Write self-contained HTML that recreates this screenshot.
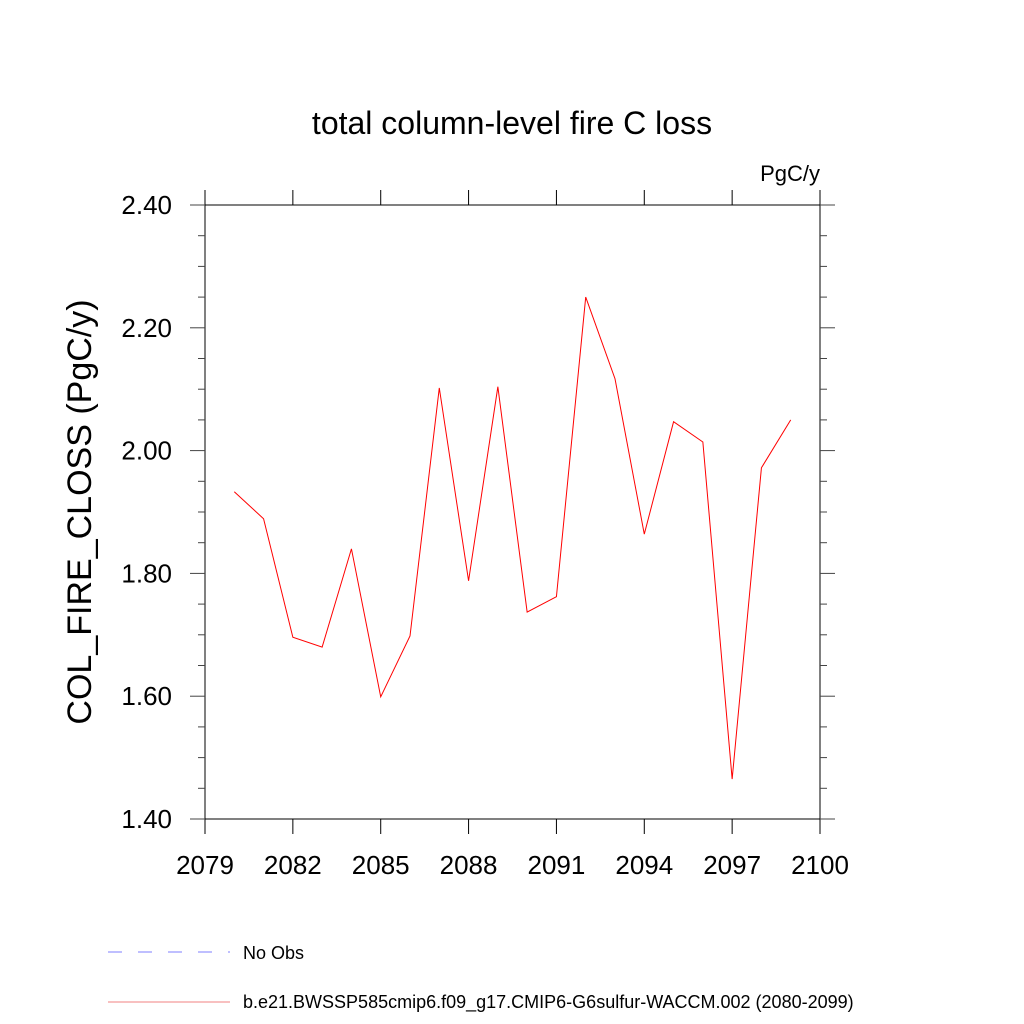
<!DOCTYPE html>
<html><head><meta charset="utf-8"><style>
html,body{margin:0;padding:0;background:#fff}
svg{display:block;font-family:"Liberation Sans",sans-serif}
</style></head><body>
<svg id="c" width="1024" height="1024" viewBox="0 0 1024 1024">
<text x="512" y="134" font-size="32" text-anchor="middle">total column-level fire C loss</text>
<text x="820" y="181" font-size="22" text-anchor="end">PgC/y</text>
<text transform="translate(91,512) rotate(-90)" font-size="34" text-anchor="middle">COL_FIRE_CLOSS  (PgC/y)</text>
<g id="axes"></g>
<polyline id="line" fill="none" stroke="#ff0000" stroke-width="1"/>
<g>
<line x1="108" y1="952" x2="230" y2="952" stroke="#7f7fff" stroke-width="1" stroke-dasharray="14,16"/>
<text x="243" y="959" font-size="18">No Obs</text>
<line x1="108" y1="1002" x2="230" y2="1002" stroke="#f08080" stroke-width="1"/>
<text x="243" y="1008" font-size="18">b.e21.BWSSP585cmip6.f09_g17.CMIP6-G6sulfur-WACCM.002 (2080-2099)</text>
</g>
</svg>
<script>
const years=[2080,2081,2082,2083,2084,2085,2086,2087,2088,2089,2090,2091,2092,2093,2094,2095,2096,2097,2098,2099];
const values=[1.933,1.889,1.696,1.680,1.840,1.599,1.698,2.102,1.788,2.104,1.737,1.762,2.250,2.117,1.864,2.047,2.014,1.465,1.972,2.050];
const xTicks=[2079,2082,2085,2088,2091,2094,2097,2100];
const yTicks=[1.40,1.60,1.80,2.00,2.20,2.40];
const X0=205,X1=820,Y0=819,Y1=205;
const xMin=2079,xMax=2100,yMin=1.4,yMax=2.4;
const sx=v=>X0+(v-xMin)/(xMax-xMin)*(X1-X0);
const sy=v=>Y0-(v-yMin)/(yMax-yMin)*(Y0-Y1);
const NS="http://www.w3.org/2000/svg";
const g=document.getElementById('axes');
function ln(x1,y1,x2,y2,name,c){const e=document.createElementNS(NS,'line');
e.setAttribute('x1',x1);e.setAttribute('y1',y1);e.setAttribute('x2',x2);e.setAttribute('y2',y2);
e.setAttribute('stroke',c||'#000');e.setAttribute('stroke-width',1);


g.appendChild(e);}
ln(X0,Y1,X1,Y1,'plot-frame-top');ln(X0,Y0,X1,Y0,'plot-frame-bottom');
ln(X0,Y1,X0,Y0,'plot-frame-left');ln(X1,Y1,X1,Y0,'plot-frame-right');
for(const t of xTicks){const x=sx(t);
ln(x,Y0,x,Y0+15,'x-tick');ln(x,Y1,x,Y1-15,'x-tick-top');
const tx=document.createElementNS(NS,'text');tx.setAttribute('x',x);tx.setAttribute('y',874);
tx.setAttribute('font-size',26);tx.setAttribute('text-anchor','middle');tx.textContent=t;


g.appendChild(tx);}
for(let v=yMin;v<=yMax+1e-9;v+=0.05){const y=sy(v);const major=Math.abs(v*5-Math.round(v*5))<1e-6;
const L=major?15:7;ln(X0-L,y,X0,y,'y-tick','#444');ln(X1,y,X1+L,y,'y-tick-right','#444');}
for(const t of yTicks){const tx=document.createElementNS(NS,'text');tx.setAttribute('x',172);tx.setAttribute('y',sy(t)+9);
tx.setAttribute('font-size',26);tx.setAttribute('text-anchor','end');tx.textContent=t.toFixed(2);


g.appendChild(tx);}
document.getElementById('line').setAttribute('points',years.map((y,i)=>sx(y)+','+sy(values[i])).join(' '));
</script>
</body></html>
